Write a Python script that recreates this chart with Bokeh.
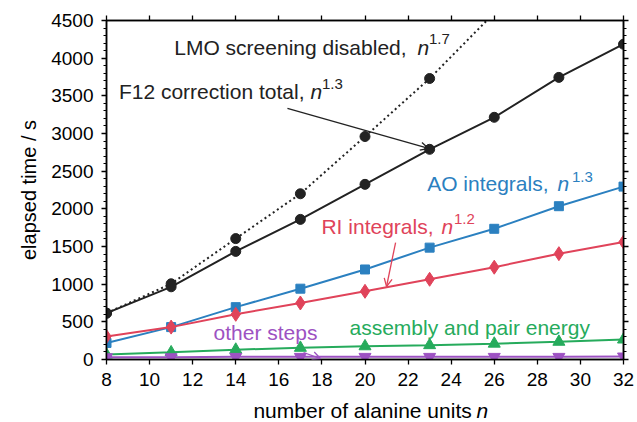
from bokeh.plotting import figure
from bokeh.layouts import column
from bokeh.models import (LinearAxis, SingleIntervalTicker, Label, Arrow, OpenHead, Range1d)
from bokeh.embed import file_html
from bokeh.resources import INLINE

# ---- data ----
n_units = [8, 11, 14, 17, 20, 23, 26, 29, 32]
f12_total = [615, 965, 1435, 1860, 2325, 2790, 3215, 3745, 4185]
lmo_n = [8, 11, 14, 17, 20, 23, 26]
lmo_disabled = [615, 1005, 1605, 2200, 2960, 3730, 4600]
ao_integrals = [220, 430, 695, 940, 1195, 1485, 1735, 2035, 2295]
ri_integrals = [305, 430, 600, 750, 905, 1065, 1225, 1405, 1560]
assembly_pair = [65, 95, 130, 155, 175, 190, 210, 235, 265]
other_steps = [30, 30, 35, 35, 35, 35, 35, 35, 40]

x_label = "number of alanine units"
y_label = "elapsed time / s"

FONT = "Liberation Sans"
TXT = "21px"
SUP = "15px"
BLACK = "#222222"
BLUE = "#2b80c0"
RED = "#e0435a"
GREEN = "#26ab5c"
PURPLE = "#9d52c2"

p = figure(width=637, height=392, output_backend="svg", toolbar_location=None,
           x_range=Range1d(8, 32), y_range=Range1d(0, 4500),
           min_border_left=106, min_border_right=14, min_border_top=20, min_border_bottom=33,
           background_fill_color="white", border_fill_color="white")
p.outline_line_color = "black"
p.outline_line_width = 1.5
p.xgrid.visible = False
p.ygrid.visible = False


def style_axis(ax, labels=True):
    ax.axis_line_color = "black"
    ax.axis_line_width = 1.5
    ax.major_tick_line_color = "black"
    ax.major_tick_line_width = 1.3
    ax.minor_tick_line_color = "black"
    ax.minor_tick_line_width = 1.0
    ax.major_tick_in = 0
    ax.major_tick_out = 5
    ax.minor_tick_in = 0
    ax.minor_tick_out = 3
    ax.major_label_text_font = FONT
    ax.major_label_text_font_size = "19px"
    ax.major_label_text_color = "black" if labels else None
    ax.axis_label_text_font = FONT
    ax.axis_label_text_font_size = "20px"
    ax.axis_label_text_font_style = "normal"
    ax.axis_label_text_color = "black"


# bottom & left axes
xax = p.xaxis[0]
xax.ticker = SingleIntervalTicker(interval=2, num_minor_ticks=0)
style_axis(xax)
xax.minor_tick_line_color = None
xax.major_label_standoff = 8

yax = p.yaxis[0]
yax.ticker = SingleIntervalTicker(interval=500, num_minor_ticks=5)
style_axis(yax)
yax.major_label_standoff = 8
yax.axis_label = y_label
yax.axis_label_standoff = 8

# top & right axes: ticks only
top = LinearAxis(ticker=SingleIntervalTicker(interval=2, num_minor_ticks=0))
style_axis(top, labels=False)
top.minor_tick_line_color = None
top.major_label_standoff = 0
p.add_layout(top, "above")
right = LinearAxis(ticker=SingleIntervalTicker(interval=500, num_minor_ticks=5))
style_axis(right, labels=False)
right.major_label_standoff = 0
p.add_layout(right, "right")

# ---- series ----
p.line(lmo_n, lmo_disabled, line_color=BLACK, line_width=2, line_dash="2 3")
p.scatter(lmo_n, lmo_disabled, marker="circle", size=10, fill_color=BLACK, line_color=BLACK)

p.line(n_units, f12_total, line_color=BLACK, line_width=2)
p.scatter(n_units, f12_total, marker="circle", size=10, fill_color=BLACK, line_color=BLACK)

p.line(n_units, ao_integrals, line_color=BLUE, line_width=2)
p.scatter(n_units, ao_integrals, marker="square", size=9, fill_color=BLUE, line_color=BLUE)

p.line(n_units, ri_integrals, line_color=RED, line_width=2)
p.scatter(n_units, ri_integrals, marker="diamond", size=14, fill_color=RED, line_color=RED)

p.line(n_units, assembly_pair, line_color=GREEN, line_width=2)
p.scatter(n_units, assembly_pair, marker="triangle", size=12, fill_color=GREEN, line_color=GREEN)

p.line(n_units, other_steps, line_color=PURPLE, line_width=2)
p.scatter(n_units, other_steps, marker="inverted_triangle", size=12, fill_color=PURPLE, line_color=PURPLE)


# ---- annotations: base text (right aligned), italic n, superscript ----
def math_label(base, exp, x_base, x_n, x_sup, y, y_sup, color):
    p.add_layout(Label(x=x_base, y=y, text=base, text_align="right", text_baseline="alphabetic",
                       text_font=FONT, text_font_size=TXT, text_color=color))
    p.add_layout(Label(x=x_n, y=y, text="n", text_align="left", text_baseline="alphabetic",
                       text_font=FONT, text_font_size=TXT, text_font_style="italic",
                       text_color=color))
    if exp:
        p.add_layout(Label(x=x_sup, y=y_sup, text=exp, text_align="left", text_baseline="alphabetic",
                           text_font=FONT, text_font_size=SUP, text_color=color))


math_label("LMO screening disabled,", "1.7", 21.93, 22.44, 22.97, 4140, 4260, BLACK)
math_label("F12 correction total,", "1.3", 17.19, 17.47, 18.0, 3555, 3655, BLACK)
math_label("AO integrals,", "1.3", 28.52, 28.94, 29.61, 2330, 2425, BLUE)
math_label("RI integrals,", "1.2", 23.18, 23.55, 24.13, 1770, 1870, RED)

p.add_layout(Label(x=12.97, y=365, text="other steps", text_align="left", text_baseline="alphabetic",
                   text_font=FONT, text_font_size=TXT, text_color=PURPLE))
p.add_layout(Label(x=19.28, y=430, text="assembly and pair energy", text_align="left",
                   text_baseline="alphabetic", text_font=FONT, text_font_size=TXT, text_color=GREEN))

# arrows
p.add_layout(Arrow(x_start=16.40, y_start=3332, x_end=22.95, y_end=2801,
                   line_color=BLACK, line_width=1.3,
                   end=OpenHead(size=8, line_color=BLACK, line_width=1.3)))
p.add_layout(Arrow(x_start=21.42, y_start=1553, x_end=21.0, y_end=969,
                   line_color=RED, line_width=1.3,
                   end=OpenHead(size=8, line_color=RED, line_width=1.3)))
p.add_layout(Arrow(x_start=17.15, y_start=93, x_end=17.93, y_end=13,
                   line_color=PURPLE, line_width=1.3,
                   end=OpenHead(size=8, line_color=PURPLE, line_width=1.3)))

# ---- x-axis title strip (a small figure whose frame is the whole strip, pixel coords) ----
strip = figure(width=637, height=30, output_backend="svg", toolbar_location=None,
               x_range=Range1d(0, 637), y_range=Range1d(0, 30),
               min_border=0, x_axis_location=None, y_axis_location=None,
               background_fill_color="white", border_fill_color="white")
strip.outline_line_color = None
strip.xgrid.visible = False
strip.ygrid.visible = False
strip.add_layout(Label(x=450, y=12, text=x_label, text_align="right", text_baseline="middle",
                       text_font=FONT, text_font_size=TXT, text_color="black"))
strip.add_layout(Label(x=456, y=12, text="n", text_align="left", text_baseline="middle",
                       text_font=FONT, text_font_size=TXT, text_font_style="italic",
                       text_color="black"))

layout = column(p, strip, spacing=0)
open("out.html", "w").write(file_html(layout, INLINE))
